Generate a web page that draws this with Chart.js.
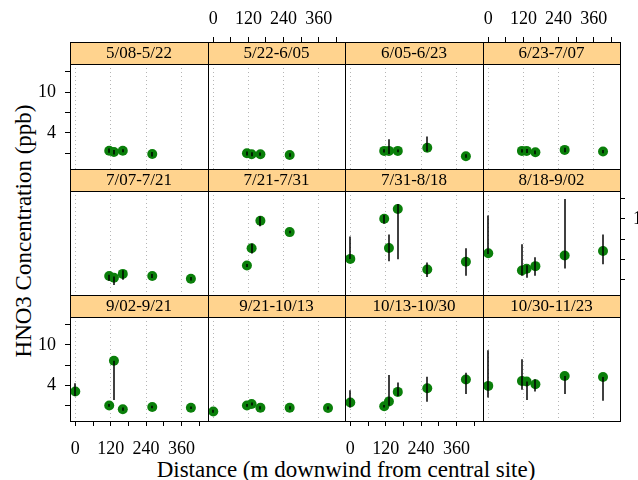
<!DOCTYPE html>
<html lang="en">
<head>
<meta charset="UTF-8">
<title>HNO3 Concentration by distance</title>
<script src="https://cdn.jsdelivr.net/npm/chart.js"></script>
<style>
  body { margin: 0; background: #fff; }
  #wrap { position: relative; width: 638px; height: 480px; overflow: hidden; }
  #wrap canvas { position: absolute; left: 0; top: 0; }
  .lab { position: absolute; font-family: 'Liberation Serif', serif; font-size: 23px; line-height: 23px; color: #000; white-space: nowrap; }
  #ylab { left: 23px; top: 231px; transform: translate(-50%, -50%) rotate(-90deg); }
  #xlab { left: 346px; top: 458px; transform: translateX(-50%); }
</style>
</head>
<body>
<div id="wrap">
  <div class="lab" id="ylab">HNO3 Concentration (ppb)</div>
  <div class="lab" id="xlab">Distance (m downwind from central site)</div>
</div>
<script>
// sampling periods (one panel each)
const periods = ['5/08-5/22', '5/22-6/05', '6/05-6/23', '6/23-7/07',
                 '7/07-7/21', '7/21-7/31', '7/31-8/18', '8/18-9/02',
                 '9/02-9/21', '9/21-10/13', '10/13-10/30', '10/30-11/23']

// sites, m downwind from central site
const distance = [0, 115, 131, 161, 261, 392]

// HNO3 (ppb) per period, per site
const hno3 = [
    [null, 2.67, 2.60, 2.67, 2.48, null],
    [null, 2.52, 2.47, 2.47, 2.43, null],
    [null, 2.66, 2.66, 2.66, 2.86, 2.36],
    [null, 2.66, 2.66, 2.58, 2.72, 2.62],
    [null, 2.72, 2.62, 2.86, 2.72, 2.56],
    [null, 3.46, 5.12, 9.55, 7.39, null],
    [4.02, 10.0, 5.15, 12.5, 3.16, 3.76],
    [4.57, 3.09, 3.21, 3.41, 4.34, 4.81],
    [3.46, 2.52, 6.97, 2.31, 2.43, 2.39],
    [2.20, 2.52, 2.60, 2.39, 2.39, 2.38],
    [2.70, 2.47, 2.76, 3.43, 3.73, 4.54],
    [3.93, 4.40, 4.34, 4.08, 4.92, 4.81]
]
const lower = [
    [null, 2.55, 2.45, 2.58, 2.35, null],
    [null, 2.40, 2.36, 2.38, 2.33, null],
    [null, 2.56, 2.48, 2.58, 2.62, 2.28],
    [null, 2.56, 2.54, 2.46, 2.58, 2.52],
    [null, 2.45, 2.22, 2.50, 2.60, 2.46],
    [null, 3.35, 4.54, 8.46, 7.20, null],
    [4.00, 8.93, 3.81, 3.99, 2.67, 2.74],
    [4.50, 2.74, 2.62, 2.74, 3.24, 3.56],
    [3.13, 2.45, 2.86, 2.24, 2.36, 2.32],
    [2.13, 2.44, 2.52, 2.30, 2.30, 2.30],
    [2.41, 2.40, 2.50, 3.13, 2.74, 3.26],
    [3.02, 3.59, 2.86, 3.46, 3.26, 2.80]
]
const upper = [
    [null, 2.80, 2.72, 2.76, 2.60, null],
    [null, 2.62, 2.58, 2.56, 2.53, null],
    [null, 2.76, 3.46, 2.74, 3.67, 2.46],
    [null, 2.76, 2.78, 2.68, 2.86, 2.72],
    [null, 2.80, 2.70, 3.11, 2.86, 2.66],
    [null, 3.58, 5.69, 10.6, 7.60, null],
    [6.70, 10.9, 7.00, 14.0, 3.71, 5.12],
    [10.8, 5.60, 3.48, 4.18, 15.7, 7.00],
    [4.18, 2.60, 6.97, 2.40, 2.50, 2.46],
    [2.28, 2.60, 2.70, 2.48, 2.48, 2.46],
    [3.56, 2.55, 5.04, 4.24, 4.85, 5.31],
    [8.85, 7.18, 4.34, 4.57, 4.92, 4.81]
]

const xTicks = [0, 60, 120, 180, 240, 300, 360, 420]
const xLabels = ['0', '', '120', '', '240', '', '360', '']
const yTicks = [1.585, 2.512, 3.981, 6.310, 10, 15.85]
const yLabels = ['', '', '4', '', '10', '']
const yLabelsRight = ['', '', '', '', '10', '']

// panel layout (pixels)
const colEdges = [70, 208, 345, 483, 620]
const rowTop = [42, 169, 295]
const rowBottom = [169, 295, 421]
const stripH = 22
const serif = 'Liberation Serif'
const green = '#0a7f0a'
const clear = 'rgba(0,0,0,0)'

const wrap = document.getElementById('wrap')

periods.forEach((period, i) => {
    const row = Math.floor(i / 4)
    const col = i % 4
    const leftAxis = col == 0 && row != 1
    const rightAxis = col == 3 && row == 1
    const topAxis = row == 0 && (col == 1 || col == 3)
    const bottomAxis = row == 2 && (col == 0 || col == 2)
    const xAxis = topAxis || bottomAxis
    const yAxis = leftAxis || rightAxis
    const labels = rightAxis ? yLabelsRight : yLabels

    // space around the panel; an outer axis takes all of it on its side
    const pad = {
        left: colEdges[col],
        right: 638 - colEdges[col + 1],
        top: rowTop[row] + stripH,
        bottom: 480 - rowBottom[row]
    }
    const xSize = topAxis ? pad.top : bottomAxis ? pad.bottom : 0
    const ySize = leftAxis ? pad.left : rightAxis ? pad.right : 0
    if (topAxis) pad.top = 0
    if (bottomAxis) pad.bottom = 0
    if (leftAxis) pad.left = 0
    if (rightAxis) pad.right = 0

    const canvas = document.createElement('canvas')
    canvas.width = 638
    canvas.height = 480
    wrap.appendChild(canvas)

    const decor = {
        id: 'decor' + i,
        afterDatasetsDraw(chart) {
            const ctx = chart.ctx
            const x = chart.scales.x
            const y = chart.scales.y
            ctx.save()
            ctx.strokeStyle = '#000'
            ctx.lineWidth = 1.5
            distance.forEach((d, k) => {
                if (hno3[i][k] == null) return
                const px = Math.round(x.getPixelForValue(d))
                ctx.beginPath()
                ctx.moveTo(px, y.getPixelForValue(lower[i][k]))
                ctx.lineTo(px, y.getPixelForValue(upper[i][k]))
                ctx.stroke()
            })
            ctx.restore()
        },
        afterDraw(chart) {
            const ctx = chart.ctx
            const a = chart.chartArea
            ctx.save()
            ctx.fillStyle = '#ffd38e'
            ctx.fillRect(a.left, a.top - stripH, a.right - a.left, stripH)
            ctx.strokeStyle = '#000'
            ctx.lineWidth = 1
            ctx.strokeRect(a.left + 0.5, a.top - stripH + 0.5, a.right - a.left, a.bottom - a.top + stripH)
            ctx.beginPath()
            ctx.moveTo(a.left, a.top + 0.5)
            ctx.lineTo(a.right, a.top + 0.5)
            ctx.stroke()
            ctx.fillStyle = '#000'
            ctx.font = '17px "' + serif + '"'
            ctx.textAlign = 'center'
            ctx.textBaseline = 'middle'
            ctx.fillText(period, (a.left + a.right) / 2, a.top - stripH / 2 + 1)
            ctx.restore()
        }
    }

    new Chart(canvas, {
        type: 'scatter',
        data: {
            datasets: [{
                data: distance.map((d, k) => ({ x: d, y: hno3[i][k] })).filter(p => p.y != null),
                backgroundColor: green,
                borderWidth: 0,
                pointRadius: 5,
                pointHoverRadius: 5
            }]
        },
        options: {
            responsive: false,
            animation: false,
            events: [],
            layout: { padding: pad },
            plugins: { legend: { display: false }, tooltip: { enabled: false } },
            scales: {
                x: {
                    type: 'linear',
                    position: topAxis ? 'top' : 'bottom',
                    min: -18,
                    max: 450,
                    bounds: 'data',
                    afterBuildTicks: s => { s.ticks = xTicks.map(v => ({ value: v })) },
                    afterFit: s => { s.height = xSize },
                    border: { display: false, dash: [1, 3] },
                    grid: {
                        color: c => (c.tick && c.tick.value % 120 == 0) ? '#b5b5b5' : clear,
                        borderDash: [1, 3],
                        tickBorderDash: [],
                        drawTicks: xAxis,
                        tickLength: topAxis ? 27 : 5,
                        tickColor: '#000',
                        tickWidth: 1
                    },
                    ticks: {
                        display: xAxis,
                        autoSkip: false,
                        maxRotation: 0,
                        padding: topAxis ? 7 : 12,
                        color: '#000',
                        font: { family: serif, size: 18 },
                        callback: v => xLabels[xTicks.indexOf(v)] ?? ''
                    }
                },
                y: {
                    type: 'logarithmic',
                    position: rightAxis ? 'right' : 'left',
                    display: yAxis,
                    min: 1.77,
                    max: 18.8,
                    bounds: 'data',
                    afterBuildTicks: s => {
                        s.ticks = yTicks.filter(v => v >= s.min && v <= s.max).map(v => ({ value: v }))
                    },
                    afterFit: s => { s.width = ySize },
                    border: { display: false },
                    grid: {
                        drawOnChartArea: false,
                        drawTicks: true,
                        tickLength: 5,
                        tickColor: '#000',
                        tickWidth: 1
                    },
                    ticks: {
                        autoSkip: false,
                        padding: rightAxis ? 8 : 9,
                        color: '#000',
                        font: { family: serif, size: 18 },
                        callback: v => {
                            const k = yTicks.findIndex(t => Math.abs(t - v) < 1e-6)
                            return k < 0 ? '' : labels[k]
                        }
                    }
                }
            }
        },
        plugins: [decor]
    })
})
</script>
</body>
</html>
